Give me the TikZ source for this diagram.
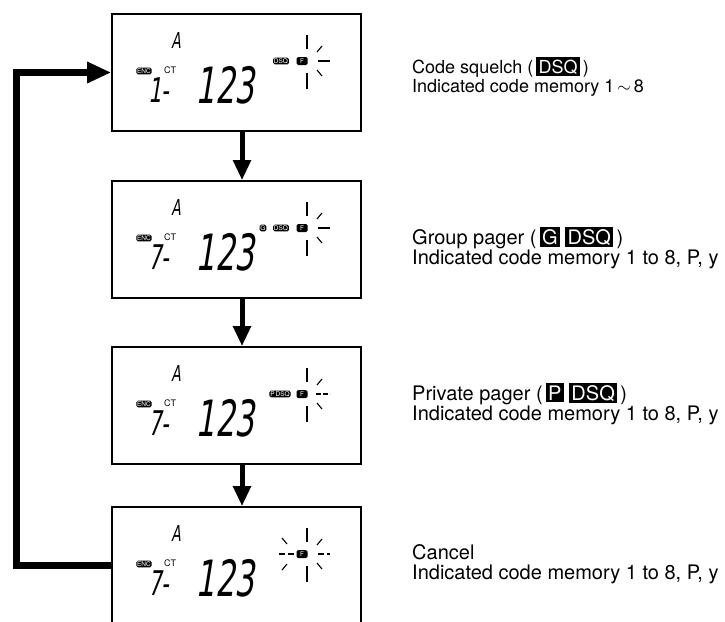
\documentclass[tikz,border=0pt]{standalone}
\usepackage{fontspec}
\setmainfont{TeX Gyre Heros}
\newfontfamily\lcdfont{DejaVu Sans}[FakeSlant=0.16,FakeStretch=0.62]
\usetikzlibrary{arrows.meta}

\newcommand\inv[1]{{\setlength{\fboxsep}{2.2pt}\colorbox{black}{\textcolor{white}{#1}}}}

\tikzset{
  lcdbox/.style={draw, line width=1.6pt, minimum width=249pt, minimum height=117pt, inner sep=0pt},
  downarrow/.style={line width=5pt, -{Triangle[length=20pt,width=17pt]}},
  looparrow/.style={line width=7pt, -{Triangle[length=24pt,width=20pt]}},
  ray/.style={line width=1.1pt},
  smalltag/.style={fill=black, text=white, rounded corners=1.5pt, inner sep=0.8pt, font=\fontsize{6.5}{6.5}\selectfont},
  caption/.style={anchor=base west, inner sep=0pt, font=\fontsize{20}{20}\selectfont},
  firstcaption/.style={caption, font=\fontsize{18}{18}\selectfont},
}

\begin{document}
\begin{tikzpicture}[x=1pt, y=-1pt]
  \useasboundingbox (0,0) rectangle (725,621);

  % displays
  \node[lcdbox] (box1) at (236.5,72.5) {};
  \node[lcdbox] (box2) at (236.5,239.5) {};
  \node[lcdbox] (box3) at (236.5,405.5) {};
  \node[lcdbox] (box4) at (236.5,565.5) {};

  % common display segments
  \foreach \i/\top/\ch in {1/14/1, 2/181/7, 3/347/7, 4/507/7} {
    \begin{scope}[shift={(112,\top)}]
      \node (a\i) at (64,26) {\lcdfont\fontsize{22}{22}\selectfont A};
      \node[smalltag] (tag\i) at (32,57) {ENC};
      \node[inner sep=0pt] (ct\i) at (58,56) {\fontsize{9}{9}\selectfont CT};
      \node (ch\i) at (47,76) {\lcdfont\fontsize{34}{34}\selectfont \ch-};
      \node (num\i) at (113,71) {\lcdfont\fontsize{50}{50}\selectfont 123};
      \node[smalltag, minimum width=11pt, minimum height=8pt] (f\i) at (190,47) {F};
      \draw[ray] (195,35) -- (195,21);
      \draw[ray] (195,59) -- (195,75);
      \draw[ray] (205,38) -- (210,32);
      \draw[ray] (205,56) -- (210,62);
    \end{scope}
  }

  % indicators and right rays
  \node[smalltag] (dsq1) at (281,61) {DSQ};
  \draw[ray] (318,61) -- (330,61);
  \node[smalltag, minimum width=6pt] (g2) at (263,228) {G};
  \node[smalltag] (dsq2) at (281,228) {DSQ};
  \draw[ray] (318,228) -- (330,228);
  \node[smalltag] (pdsq3) at (280,394) {P\,DSQ};
  \draw[ray, dash pattern=on 5pt off 2pt] (316,394) -- (330,394);
  \draw[ray, dash pattern=on 6pt off 3pt] (318,554) -- (330,554);
  \draw[ray, dash pattern=on 6pt off 3pt] (279,554) -- (294,554);
  \draw[ray] (287,544) -- (282,538);
  \draw[ray] (287,564) -- (282,570);

  % captions
  \node[firstcaption] (t1) at (412,73) {Code squelch (\,\inv{DSQ}\,)};
  \node[firstcaption] (m1) at (412,92) {Indicated code memory 1\,$\sim$\,8};
  \node[caption] (t2) at (412,244) {Group pager (\,\inv{G}\;\inv{DSQ}\,)};
  \node[caption] (m2) at (412,264) {Indicated code memory 1 to 8, P, y};
  \node[caption] (t3) at (412,400) {Private pager (\,\inv{P}\;\inv{DSQ}\,)};
  \node[caption] (m3) at (412,420) {Indicated code memory 1 to 8, P, y};
  \node[caption] (t4) at (412,559) {Cancel};
  \node[caption] (m4) at (412,579) {Indicated code memory 1 to 8, P, y};

  % arrows
  \draw[downarrow] ([xshift=5.5pt]box1.south) -- ([xshift=5.5pt]box2.north);
  \draw[downarrow] ([xshift=5.5pt]box2.south) -- ([xshift=5.5pt]box3.north);
  \draw[downarrow] ([xshift=5.5pt]box3.south) -- ([xshift=5.5pt]box4.north);
  \draw[looparrow] (box4.west) -- ++(-95,0) |- (box1.west);
\end{tikzpicture}
\end{document}
